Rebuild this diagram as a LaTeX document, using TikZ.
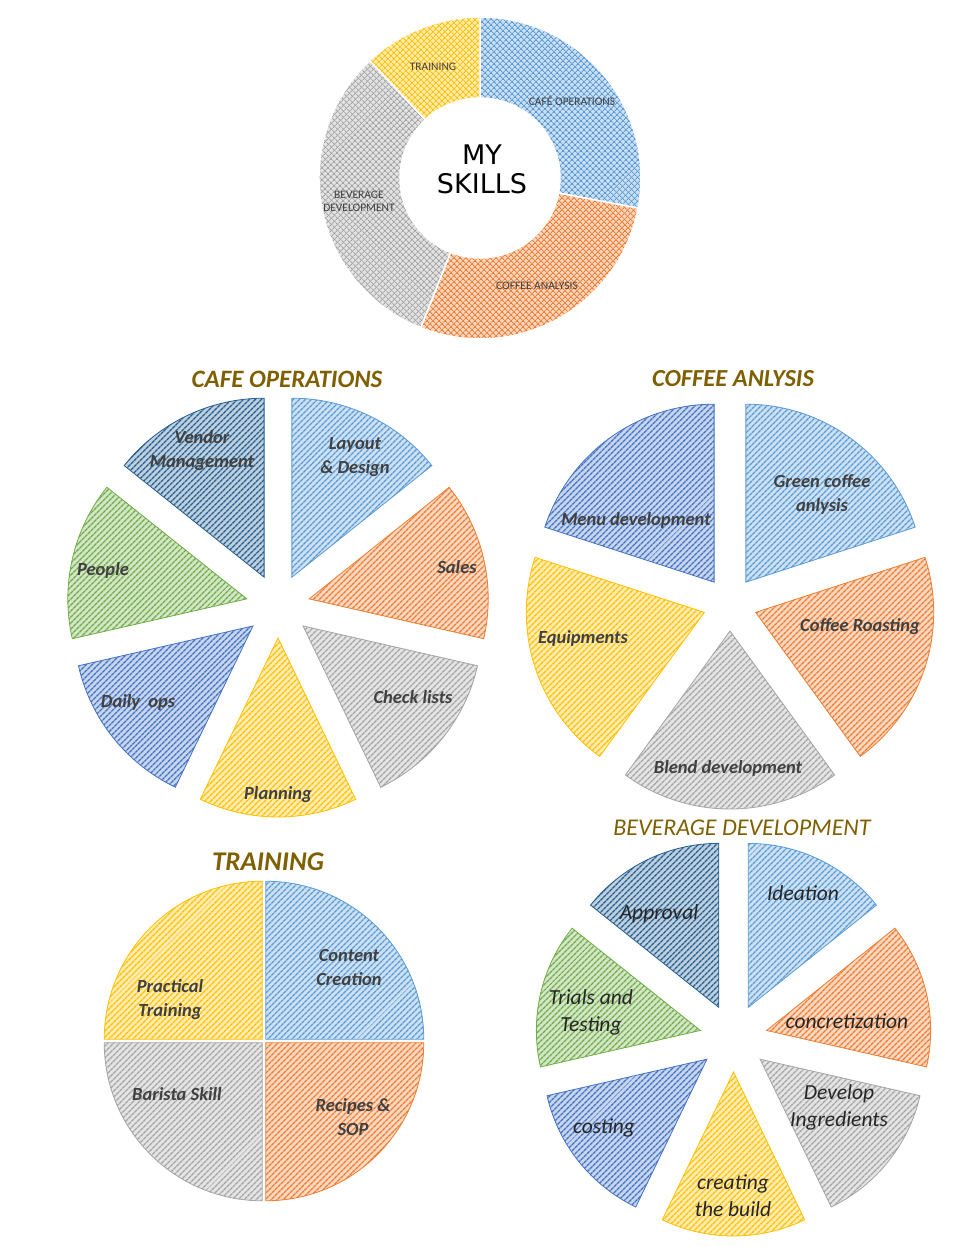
\documentclass[tikz,border=0pt]{standalone}
\usepackage{fontspec}
\setmainfont{Carlito}
\newfontfamily\skillfont{DejaVu Sans}
\usetikzlibrary{patterns.meta}
\definecolor{cLblue}{HTML}{5B9BD5}
\definecolor{cOrange}{HTML}{ED7D31}
\definecolor{cGray}{HTML}{A5A5A5}
\definecolor{cYellow}{HTML}{FFC000}
\definecolor{cBlue}{HTML}{4472C4}
\definecolor{cGreen}{HTML}{70AD47}
\definecolor{cDblue}{HTML}{255E91}
\definecolor{cTitle}{HTML}{7F6000}
\definecolor{cText}{HTML}{404040}
\tikzset{
  slicefill/.style={preaction={fill=#1!30}, pattern={Lines[angle=45,distance=4pt,line width=1.4pt]}, pattern color=#1, draw=#1, line width=0.8pt},
  ringfill/.style={preaction={fill=#1!32}, pattern={Lines[angle=45,distance=4pt,line width=0.9pt]}, pattern color=#1,
     postaction={pattern={Lines[angle=-45,distance=4pt,line width=0.9pt]}, pattern color=#1},
     postaction={draw=white, line width=1.5pt}},
  title/.style={inner sep=0pt, font=\fontsize{25}{28}\selectfont\bfseries\itshape, text=cTitle},
  lab/.style={inner sep=0pt, font=\fontsize{18.5}{24}\selectfont\bfseries\itshape, text=cText, align=center},
  blab/.style={inner sep=0pt, font=\fontsize{21.5}{27}\selectfont\itshape, text=black!85, align=center},
  rlab/.style={inner sep=0pt, font=\fontsize{11.5}{13}\selectfont, text=cText, align=center},
}
% #1 centre, #2 explode distance, #3 radius, #4 start angle, #5 end angle, #6 colour
\newcommand\mkslice[6]{%
  \begin{scope}[shift={(#1)}]
    \path[slicefill=#6] ({(#4+#5)/2}:#2) -- ++(#4:#3) arc[start angle=#4, end angle=#5, radius=#3] -- cycle;
  \end{scope}}
% #1 centre, #2 outer R, #3 inner r, #4 start, #5 end, #6 colour
\newcommand\mkring[6]{%
  \begin{scope}[shift={(#1)}]
    \path[ringfill=#6] (#4:#2) arc[start angle=#4, end angle=#5, radius=#2] -- (#5:#3) arc[start angle=#5, end angle=#4, radius=#3] -- cycle;
  \end{scope}}
\begin{document}
\begin{tikzpicture}[x=1pt,y=1pt]
\fill[white] (0,0) rectangle (957,-1247);
\useasboundingbox (0,0) rectangle (957,-1247);

% ---------- donut ----------
\coordinate (dC) at (480,-178);
\mkring{dC}{161}{80}{90}{-10.8}{cLblue}
\mkring{dC}{161}{80}{-10.8}{-111.6}{cOrange}
\mkring{dC}{161}{80}{-111.6}{-226.8}{cGray}
\mkring{dC}{161}{80}{-226.8}{-270}{cYellow}
\node[inner sep=0pt, font=\skillfont\fontsize{27}{29}\selectfont, align=center] (myskills) at (482,-169) {MY\\SKILLS};
\node[rlab] (dTrain) at (433,-67) {TRAINING};
\node[rlab] (dCafe) at (572,-101) {CAFÉ OPERATIONS};
\node[rlab] (dCoffee) at (537,-286) {COFFEE ANALYSIS};
\node[rlab] (dBev) at (359,-201) {BEVERAGE\\DEVELOPMENT};

% ---------- cafe operations ----------
\node[title] (tCafe) at (287,-379) {CAFE OPERATIONS};
\coordinate (cC) at (278,-606);
\mkslice{cC}{32}{179}{90}{38.571}{cLblue}
\mkslice{cC}{32}{179}{38.571}{-12.857}{cOrange}
\mkslice{cC}{32}{179}{-12.857}{-64.286}{cGray}
\mkslice{cC}{32}{179}{-64.286}{-115.714}{cYellow}
\mkslice{cC}{32}{179}{-115.714}{-167.143}{cBlue}
\mkslice{cC}{32}{179}{-167.143}{-218.571}{cGreen}
\mkslice{cC}{32}{179}{-218.571}{-270}{cDblue}
\node[lab] (cLayout) at (355,-457) {Layout\\\& Design};
\node[lab] (cSales) at (457,-567) {Sales};
\node[lab] (cCheck) at (413,-697) {Check lists};
\node[lab] (cPlan) at (278,-795) {Planning};
\node[lab] (cDaily) at (138,-702) {Daily\ \ ops};
\node[lab] (cPeople) at (103,-570) {People};
\node[lab] (cVendor) at (202,-451) {Vendor\\Management};

% ---------- coffee analysis ----------
\node[title, font=\fontsize{24.5}{28}\selectfont\bfseries\itshape] (tCoffee) at (733,-379) {COFFEE ANLYSIS};
\coordinate (kC) at (730,-604);
\mkslice{kC}{27}{178}{90}{18}{cLblue}
\mkslice{kC}{27}{178}{18}{-54}{cOrange}
\mkslice{kC}{27}{178}{-54}{-126}{cGray}
\mkslice{kC}{27}{178}{-126}{-198}{cYellow}
\mkslice{kC}{27}{178}{-198}{-270}{cBlue}
\node[lab] (kGreen) at (822,-494) {Green coffee\\anlysis};
\node[lab] (kRoast) at (860,-627) {Coffee Roasting};
\node[lab] (kBlend) at (728,-768) {Blend development};
\node[lab] (kEquip) at (583,-638) {Equipments};
\node[lab] (kMenu) at (636,-520) {Menu development};

% ---------- training ----------
\node[title, font=\fontsize{27}{30}\selectfont\bfseries\itshape] (tTrain) at (268,-862) {TRAINING};
\coordinate (tC) at (264,-1041);
\mkslice{tC}{2.5}{158}{90}{0}{cLblue}
\mkslice{tC}{2.5}{158}{0}{-90}{cOrange}
\mkslice{tC}{2.5}{158}{-90}{-180}{cGray}
\mkslice{tC}{2.5}{158}{-180}{-270}{cYellow}
\node[lab] (tContent) at (349,-967) {Content\\Creation};
\node[lab] (tRecipes) at (353,-1117) {Recipes \&\\SOP};
\node[lab] (tBarista) at (177,-1094) {Barista Skill};
\node[lab] (tPractical) at (170,-1000) {Practical\\Training};

% ---------- beverage development ----------
\node[title, font=\fontsize{24}{27}\selectfont\itshape] (tBev) at (742,-828) {BEVERAGE DEVELOPMENT};
\coordinate (bC) at (733.5,-1038);
\mkslice{bC}{34}{164}{90}{38.571}{cLblue}
\mkslice{bC}{34}{164}{38.571}{-12.857}{cOrange}
\mkslice{bC}{34}{164}{-12.857}{-64.286}{cGray}
\mkslice{bC}{34}{164}{-64.286}{-115.714}{cYellow}
\mkslice{bC}{34}{164}{-115.714}{-167.143}{cBlue}
\mkslice{bC}{34}{164}{-167.143}{-218.571}{cGreen}
\mkslice{bC}{34}{164}{-218.571}{-270}{cDblue}
\node[blab] (bIdea) at (803,-893) {Ideation};
\node[blab] (bConc) at (847,-1021) {concretization};
\node[blab] (bDevelop) at (839,-1107) {Develop\\Ingredients};
\node[blab] (bBuild) at (733,-1196) {creating\\the build};
\node[blab] (bCost) at (604,-1128) {costing};
\node[blab] (bTrials) at (591,-1012) {Trials and\\Testing};
\node[blab] (bApprove) at (659,-914) {Approval};
\end{tikzpicture}
\end{document}
